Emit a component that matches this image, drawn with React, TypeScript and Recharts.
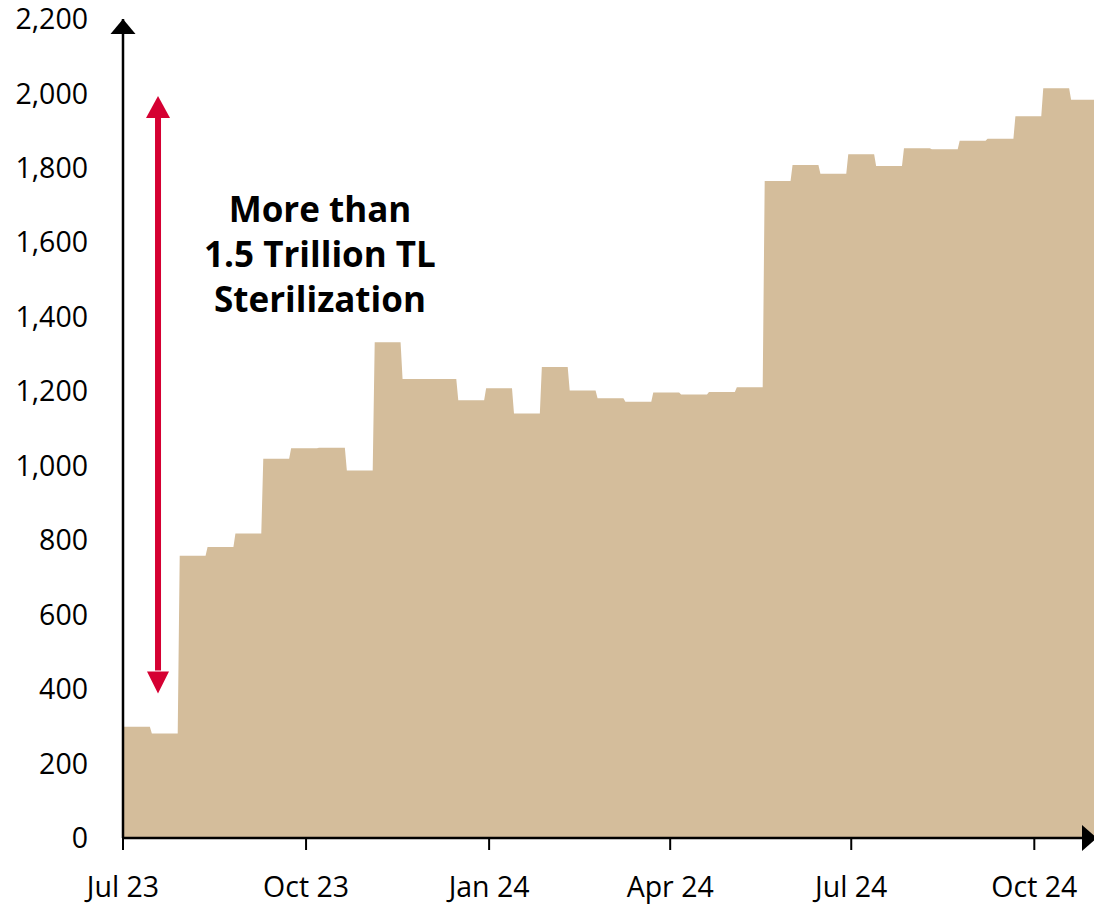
import React from 'react';
import { AreaChart, Area, XAxis, YAxis, ReferenceDot, ReferenceLine } from 'recharts';

// Start date of each two-week period (values held flat over the period)
const periodStarts = [
  '2023-07-01', '2023-07-15', '2023-07-29', '2023-08-12', '2023-08-26', '2023-09-09',
  '2023-09-23', '2023-10-07', '2023-10-21', '2023-11-04', '2023-11-18', '2023-12-02',
  '2023-12-16', '2023-12-30', '2024-01-13', '2024-01-27', '2024-02-10', '2024-02-24',
  '2024-03-09', '2024-03-23', '2024-04-06', '2024-04-20', '2024-05-04', '2024-05-18',
  '2024-06-01', '2024-06-15', '2024-06-29', '2024-07-13', '2024-07-27', '2024-08-10',
  '2024-08-24', '2024-09-07', '2024-09-21', '2024-10-05', '2024-10-19',
];

// Sterilization amount (billion TL)
const values = [
  299, 281, 758, 782, 818, 1019,
  1047, 1048, 987, 1332, 1233, 1233,
  1176, 1208, 1140, 1265, 1202, 1181,
  1172, 1197, 1191, 1198, 1211, 1765,
  1808, 1784, 1837, 1805, 1853, 1850,
  1873, 1878, 1939, 2014, 1983,
];

const tickDates = ['2023-07-01', '2023-10-01', '2024-01-01', '2024-04-01', '2024-07-01', '2024-10-01'];
const tickLabels = ['Jul 23', 'Oct 23', 'Jan 24', 'Apr 24', 'Jul 24', 'Oct 24'];
const yTicks = [0, 200, 400, 600, 800, 1000, 1200, 1400, 1600, 1800, 2000, 2200];
const annotationLines = ['More than', '1.5 Trillion TL', 'Sterilization'];

const ORIGIN = Date.parse('2023-07-01');
const toDay = (s: string) => (Date.parse(s) - ORIGIN) / 86400000;
const END_DAY = toDay('2024-10-31') + 0; // right edge of the axis

const data = periodStarts.flatMap((s, i) => {
  const d = toDay(s);
  return [
    { day: d + 0.5, v: values[i] },
    { day: d + 13.5, v: values[i] },
  ];
});

const tickDays = tickDates.map(toDay);
const labelFor = (d: number) => {
  const i = tickDays.indexOf(d);
  return i >= 0 ? tickLabels[i] : '';
};

const RED = '#D50032';
const FILL = '#D4BD9B';
const ARROW_X = 17.6;

export default function App() {
  return (
    <div style={{ position: 'absolute', left: 0, top: 0, width: 1094, height: 905, background: '#fff' }}>
      <AreaChart
        width={1094}
        height={905}
        data={data}
        margin={{ top: 19, right: 0, bottom: 0, left: 0 }}
        style={{ fontFamily: '"Open Sans", "Noto Sans", sans-serif' }}
      >
        <Area
          type="linear"
          dataKey="v"
          fill={FILL}
          fillOpacity={1}
          stroke="none"
          isAnimationActive={false}
        />
        <XAxis
          type="number"
          dataKey="day"
          domain={[0, END_DAY]}
          allowDataOverflow
          ticks={tickDays}
          interval={0}
          tickFormatter={labelFor}
          height={67}
          axisLine={{ stroke: '#000', strokeWidth: 2.5 }}
          tickLine={{ stroke: '#000', strokeWidth: 2 }}
          tickSize={12}
          tickMargin={27}
          tick={{ fill: '#000', fontSize: 28.5 }}
        />
        <YAxis
          type="number"
          domain={[0, 2200]}
          ticks={yTicks}
          interval={0}
          width={123}
          tickFormatter={(v: number) => v.toLocaleString('en-US')}
          axisLine={{ stroke: '#000', strokeWidth: 2.5 }}
          tickLine={false}
          tickSize={0}
          tickMargin={35}
          tick={{ fill: '#000', fontSize: 28.5 }}
        />
        {/* axis arrow heads */}
        <ReferenceDot
          x={0}
          y={2200}
          ifOverflow="visible"
          shape={(p: any) => (
            <polygon
              points={`${p.cx},${p.cy} ${p.cx - 12.5},${p.cy + 15} ${p.cx + 12.5},${p.cy + 15}`}
              fill="#000"
            />
          )}
        />
        <ReferenceDot
          x={END_DAY}
          y={0}
          ifOverflow="visible"
          shape={(p: any) => (
            <polygon
              points={`${p.cx + 3},${p.cy} ${p.cx - 12},${p.cy - 13} ${p.cx - 12},${p.cy + 13}`}
              fill="#000"
            />
          )}
        />
        {/* red double arrow */}
        <ReferenceLine
          segment={[{ x: ARROW_X, y: 1935 }, { x: ARROW_X, y: 450 }]}
          stroke={RED}
          strokeWidth={6}
          ifOverflow="visible"
        />
        <ReferenceDot
          x={ARROW_X}
          y={1993}
          ifOverflow="visible"
          shape={(p: any) => (
            <polygon
              points={`${p.cx},${p.cy} ${p.cx - 12},${p.cy + 22} ${p.cx + 12},${p.cy + 22}`}
              fill={RED}
            />
          )}
        />
        <ReferenceDot
          x={ARROW_X}
          y={388}
          ifOverflow="visible"
          shape={(p: any) => (
            <polygon
              points={`${p.cx},${p.cy} ${p.cx - 11},${p.cy - 22} ${p.cx + 11},${p.cy - 22}`}
              fill={RED}
            />
          )}
        />
        {/* annotation */}
        <ReferenceDot
          x={99}
          y={1655}
          ifOverflow="visible"
          shape={(p: any) => (
            <text
              x={p.cx}
              y={p.cy}
              textAnchor="middle"
              fontWeight={700}
              fontSize={35}
              fill="#000"
              style={{ fontFamily: '"Open Sans", "Noto Sans", sans-serif' }}
            >
              {annotationLines.map((l, i) => (
                <tspan key={i} x={p.cx} dy={i === 0 ? 0 : 45}>
                  {l}
                </tspan>
              ))}
            </text>
          )}
        />
      </AreaChart>
    </div>
  );
}
